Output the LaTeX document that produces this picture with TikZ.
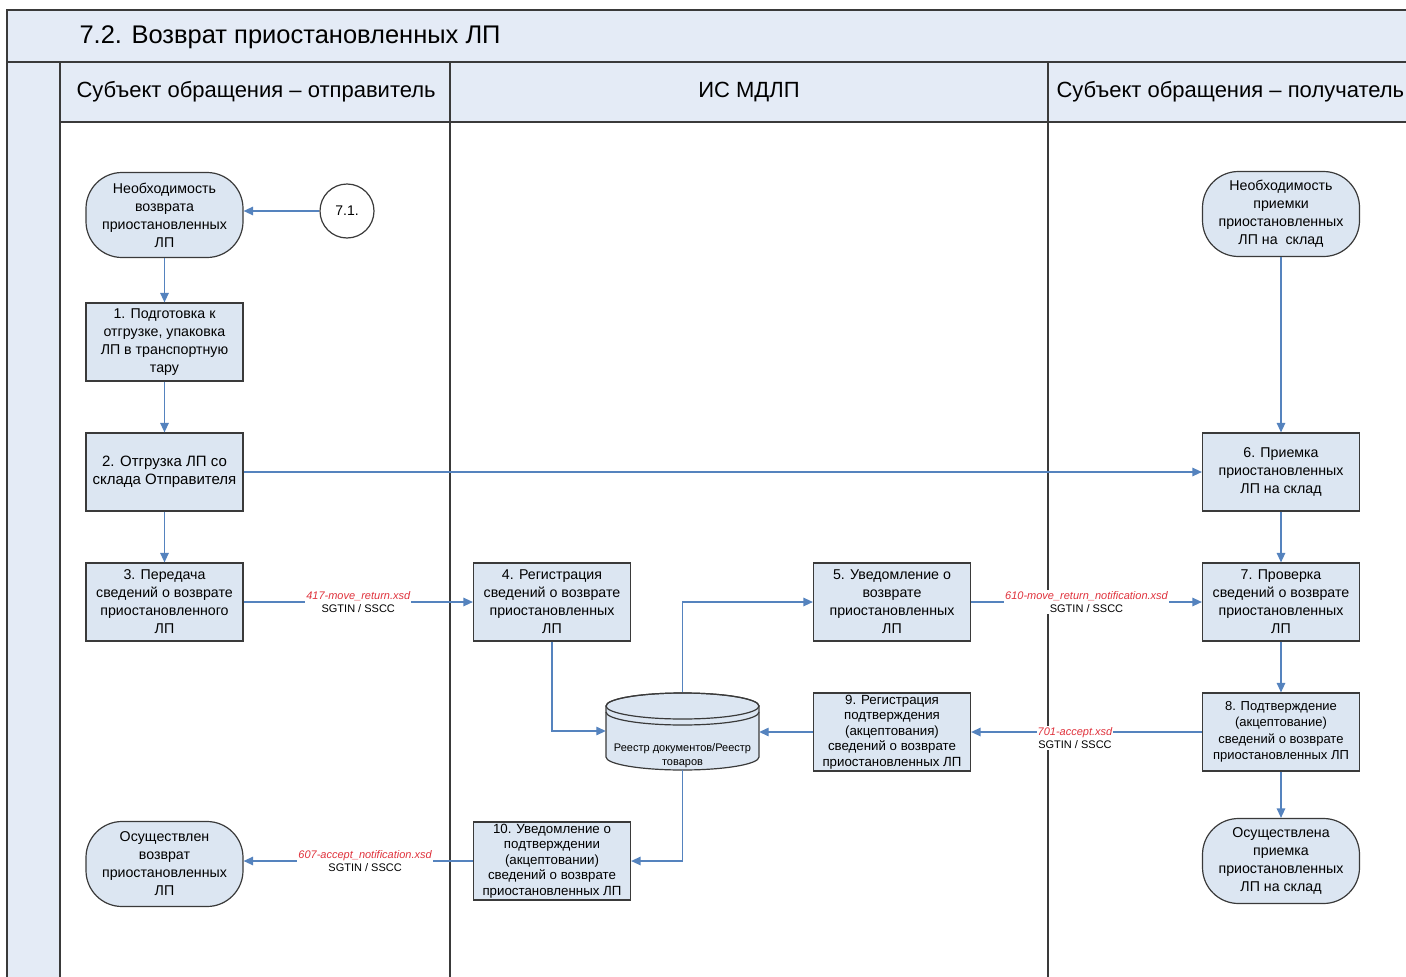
\documentclass[tikz,border=0pt]{standalone}
\usepackage{fontspec}
\setmainfont{Liberation Sans}
\usetikzlibrary{arrows.meta,calc}
\definecolor{boxfill}{HTML}{DCE6F2}
\definecolor{hdrfill}{HTML}{E4EBF6}
\definecolor{flowc}{HTML}{5583BE}
\definecolor{lblred}{HTML}{E0323C}
\definecolor{framec}{HTML}{3A3A3A}
\newcommand{\fsz}[2]{\fontsize{#1}{#2}\selectfont}
\tikzset{
  proc/.style={draw=framec, line width=1.2pt, fill=boxfill, minimum width=157pt, minimum height=78pt, align=center, inner sep=0pt, font=\fsz{14.2}{18}},
  term/.style={proc, rounded corners=36pt, minimum height=85pt},
  small/.style={font=\fsz{13.3}{15.5}},
  flow/.style={draw=flowc, line width=1.3pt, -{Triangle[length=9.5pt,width=8.5pt]}},
  lbl/.style={fill=white, inner sep=1pt, align=center, font=\fsz{11}{13}},
  lane/.style={draw=framec, line width=1.6pt},
}
\newcommand{\xsd}[1]{\textcolor{lblred}{\itshape #1}}
\begin{document}
\begin{tikzpicture}[x=1pt,y=-1pt]
\useasboundingbox (0,0) rectangle (1406,977);
% background / frame
\fill[hdrfill] (7,10) rectangle (1406,62);
\fill[hdrfill] (7,62) rectangle (60,977);
\fill[hdrfill] (60,62) rectangle (1406,122);
\draw[lane, line width=2pt] (1406,10) -- (7,10) -- (7,977);
\draw[lane, line width=2pt] (7,62) -- (1406,62);
\draw[lane, line width=2pt] (60,122) -- (1406,122);
\draw[lane] (60,62) -- (60,977);
\draw[lane] (450,62) -- (450,977);
\draw[lane] (1048,62) -- (1048,977);
\node[anchor=west, font=\fsz{25.5}{28}] (title) at (76,37) {7.2. Возврат приостановленных ЛП};
\node[anchor=west, font=\fsz{22}{24}] (h1) at (73,92) {Субъект обращения – отправитель};
\node[font=\fsz{22}{24}] (h2) at (749,92) {ИС МДЛП};
\node[anchor=west, font=\fsz{22}{24}] (h3) at (1053,92) {Субъект обращения – получатель};
% sender lane
\node[term] (s1) at (164.5,215) {Необходимость\\возврата\\приостановленных\\ЛП};
\node[draw=framec, line width=1.2pt, fill=white, circle, minimum size=54pt, inner sep=0pt, font=\fsz{14}{16}] (c71) at (347,211) {7.1.};
\node[proc] (b1) at (164.5,342) {1. Подготовка к\\отгрузке, упаковка\\ЛП в транспортную\\тару};
\node[proc, font=\fsz{15}{18}] (b2) at (164.5,472) {2. Отгрузка ЛП со\\склада Отправителя};
\node[proc] (b3) at (164.5,602) {3. Передача\\сведений о возврате\\приостановленного\\ЛП};
\node[term] (e1) at (164.5,864) {Осуществлен\\возврат\\приостановленных\\ЛП};
% IS MDLP lane
\node[proc] (b4) at (552,602) {4. Регистрация\\сведений о возврате\\приостановленных\\ЛП};
\node[proc] (b5) at (892,602) {5. Уведомление о\\возврате\\приостановленных\\ЛП};
\node[proc, small] (b9) at (892,732) {9. Регистрация\\подтверждения\\(акцептования)\\сведений о возврате\\приостановленных ЛП};
\node[proc, small] (b10) at (552,861) {10. Уведомление о\\подтверждении\\(акцептовании)\\сведений о возврате\\приостановленных ЛП};
% database cylinder
\node[minimum width=153pt, minimum height=78pt, inner sep=0pt] (db) at (682.5,731) {};
\draw[draw=framec, line width=1.2pt, fill=boxfill]
  (606,706) -- (606,757) arc[start angle=180, end angle=0, x radius=76.5, y radius=13] -- (759,706)
  arc[start angle=0, end angle=-180, x radius=76.5, y radius=13] -- cycle;
\draw[draw=framec, line width=1.2pt] (682.5,706) ellipse[x radius=76.5, y radius=13];
\draw[draw=framec, line width=1.2pt] (606,712) arc[start angle=180, end angle=0, x radius=76.5, y radius=13];
\node[align=center, font=\fsz{11}{14}] (dbt) at (682.5,756) {Реестр документов/Реестр\\товаров};
% receiver lane
\node[term] (s2) at (1281,214) {Необходимость\\приемки\\приостановленных\\ЛП на\ \ склад};
\node[proc] (b6) at (1281,472) {6. Приемка\\приостановленных\\ЛП на склад};
\node[proc] (b7) at (1281,602) {7. Проверка\\сведений о возврате\\приостановленных\\ЛП};
\node[proc, font=\fsz{13}{16.5}] (b8) at (1281,732) {8. Подтверждение\\(акцептование)\\сведений о возврате\\приостановленных ЛП};
\node[term] (e2) at (1281,861) {Осуществлена\\приемка\\приостановленных\\ЛП на склад};
% connectors
\draw[flow] (c71.west) -- (c71.west -| s1.east);
\draw[flow] (s1) -- (b1);
\draw[flow] (b1) -- (b2);
\draw[flow] (b2) -- (b3);
\draw[flow] (b2) -- (b6);
\draw[flow] (b3) -- node[lbl] {\xsd{417-move\_return.xsd}\\SGTIN / SSCC} (b4);
\draw[flow] (b4.south) |- (db.west);
\draw[flow] (db.north) |- (b5.west);
\draw[flow] (b5) -- node[lbl] {\xsd{610-move\_return\_notification.xsd}\\SGTIN / SSCC} (b7);
\draw[flow] (s2) -- (b6);
\draw[flow] (b6) -- (b7);
\draw[flow] (b7) -- (b8);
\draw[flow] (b8) -- (e2);
\draw[flow] (b8) -- node[lbl, pos=0.55, yshift=-6pt] {\xsd{701-accept.xsd}\\SGTIN / SSCC} (b9);
\draw[flow] (b9) -- (b9 -| db.east);
\draw[flow] (db.south) |- (b10.east);
\draw[flow] (b10) -- node[lbl, pos=0.47] {\xsd{607-accept\_notification.xsd}\\SGTIN / SSCC} (b10 -| e1.east);
\end{tikzpicture}
\end{document}
